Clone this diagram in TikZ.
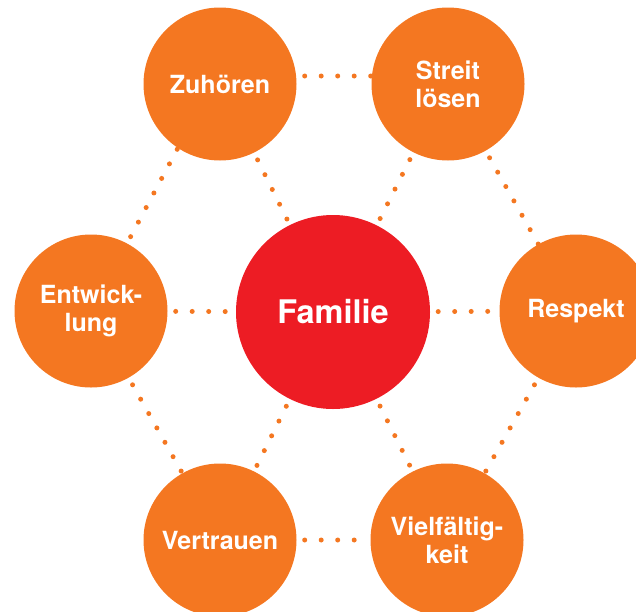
\documentclass[tikz,border=0pt]{standalone}
\usepackage{fontspec}
\setmainfont{TeX Gyre Heros}
\usetikzlibrary{positioning}
\definecolor{famorange}{HTML}{F47721}
\definecolor{famred}{HTML}{ED1C24}

\begin{document}
\begin{tikzpicture}[x=1pt,y=-1pt,
                    outer/.style={circle, fill=famorange, text=white, inner sep=0pt,
                                  minimum size=153pt, align=center,
                                  font=\fontsize{25}{28}\selectfont\bfseries},
                    centre/.style={circle, fill=famred, text=white, inner sep=0pt,
                                   minimum size=194pt,
                                   font=\fontsize{32.5}{36}\selectfont\bfseries},
                    dots/.style={famorange, line width=5pt, line cap=round,
                                 dash pattern=on 0pt off 16.5pt, shorten <=8pt},
                   ]
\useasboundingbox (0,0) rectangle (636,611);

\node[centre] (fam) at (333,312) {Familie};

\node[outer] (zuh)    at (220,84)  {Zuh\"oren};
\node[outer] (streit) at (448,84)  {Streit\\l\"osen};
\node[outer] (resp)   at (576,311) {Respekt};
\node[outer] (viel)   at (447,540) {Vielf\"altig-\\keit};
\node[outer] (vertr)  at (220,540) {Vertrauen};
\node[outer] (entw)   at (91,311)  {Entwick-\\lung};

% ring
\draw[dots] ([yshift=8pt]zuh.east) -- ([yshift=8pt]streit.west);
\draw[dots] (streit) -- (resp);
\draw[dots] (resp) -- (viel);
\draw[dots] (vertr) -- (viel);
\draw[dots] (entw) -- (vertr);
\draw[dots] ([xshift=-8pt]zuh.center) -- (entw);

% spokes
\draw[dots] (entw) -- (fam);
\draw[dots] (fam) -- (resp);
\draw[dots] (zuh) -- (fam);
\draw[dots] (streit) -- (fam);
\draw[dots] (fam) -- (vertr);
\draw[dots] (fam) -- (viel);

\end{tikzpicture}
\end{document}
